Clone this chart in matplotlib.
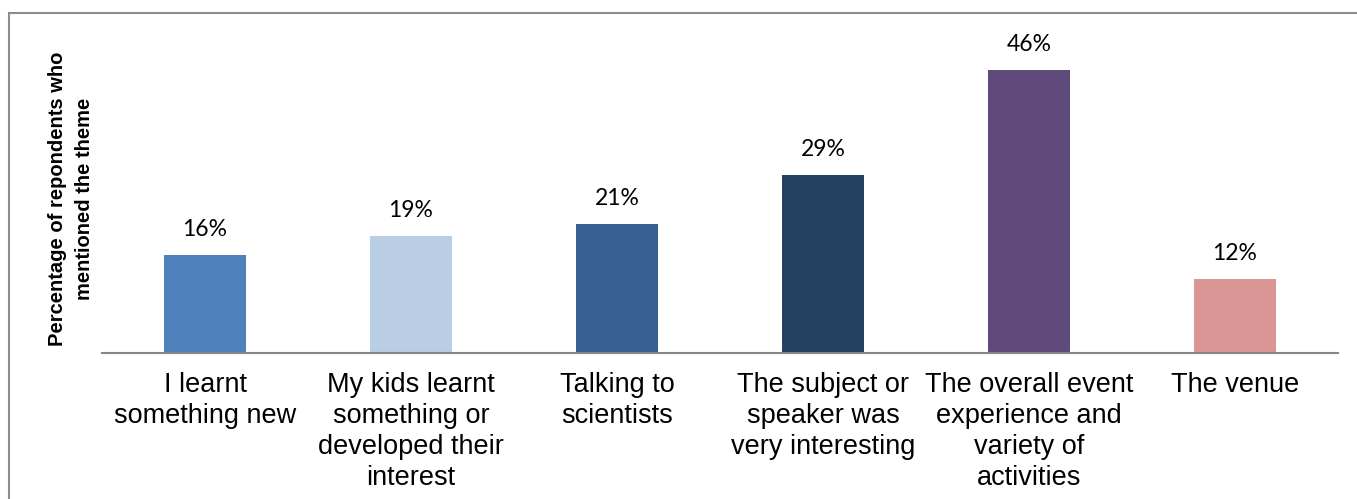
import matplotlib.pyplot as plt
from matplotlib.patches import Rectangle

# themes mentioned by respondents
categories = ["I learnt\nsomething new",
              "My kids learnt\nsomething or\ndeveloped their\ninterest",
              "Talking to\nscientists",
              "The subject or\nspeaker was\nvery interesting",
              "The overall event\nexperience and\nvariety of\nactivities",
              "The venue"]
shares = [0.16, 0.19, 0.21, 0.29, 0.46, 0.12]
bar_colors = ["#4F81BD", "#B9CDE5", "#376092", "#254061", "#604A7B", "#D99694"]

fig = plt.figure(figsize=(13.57, 4.99), dpi=100)
ax = fig.add_axes([102/1357, 1 - 353/499, (1338 - 102)/1357, 307.6/499])

xs = range(len(categories))
ax.bar(xs, shares, width=0.40, color=bar_colors)
for x, v in zip(xs, shares):
    ax.text(x, v + 0.024, f"{v*100:.0f}%", ha="center", va="bottom",
            fontsize=16.5, family="Lato", color="black")

ax.set_xlim(-0.5, len(categories) - 0.5)
ax.set_ylim(0, 0.5)
ax.set_xticks(list(xs))
ax.set_xticklabels(categories, fontsize=19.5, family="Liberation Sans",
                   linespacing=1.25)
ax.tick_params(axis="x", length=0, pad=14)
ax.set_yticks([])
for side in ["top", "right", "left"]:
    ax.spines[side].set_visible(False)
ax.spines["bottom"].set_color("#868686")
ax.spines["bottom"].set_linewidth(1.5)

ax.set_ylabel("Percentage of repondents who\nmentioned the theme",
              fontsize=14.5, fontweight="bold", family="Liberation Sans",
              linespacing=1.5, labelpad=6)

# outer frame
fig.patches.append(Rectangle((9/1357, -0.1), 1.2, 0.1 + 1 - 13/499,
                             transform=fig.transFigure, fill=False,
                             edgecolor="#8C8C8C", linewidth=1.5))

fig.savefig("out.png", dpi=100)
